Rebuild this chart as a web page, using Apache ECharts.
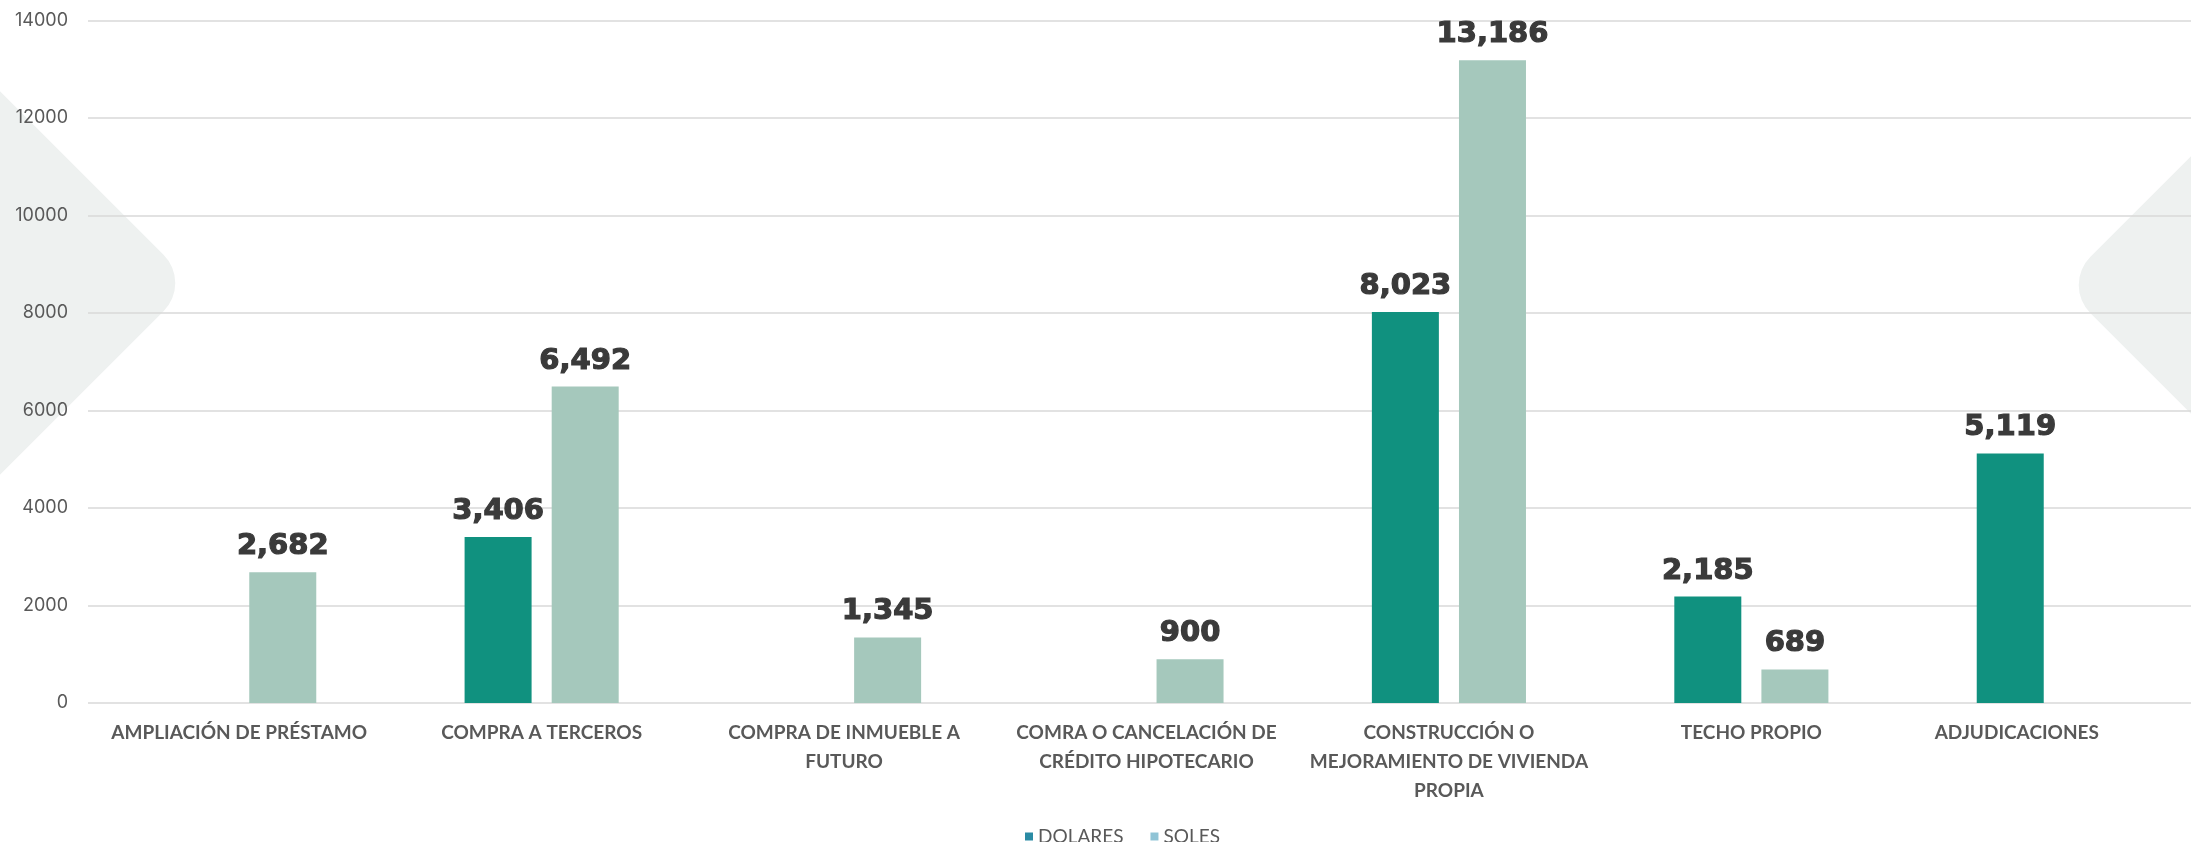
<!DOCTYPE html>
<html>
<head>
<meta charset="utf-8">
<script src="https://cdn.jsdelivr.net/npm/echarts@6/dist/echarts.min.js"></script>
<style>
html,body{margin:0;padding:0;background:#ffffff;}
#chart{width:2191px;height:842px;}
</style>
</head>
<body>
<div id="chart"></div>
<script>
const categories = [
  'AMPLIACIÓN DE PRÉSTAMO',
  'COMPRA A TERCEROS',
  'COMPRA DE INMUEBLE A FUTURO',
  'COMRA O CANCELACIÓN DE CRÉDITO HIPOTECARIO',
  'CONSTRUCCIÓN O MEJORAMIENTO DE VIVIENDA PROPIA',
  'TECHO PROPIO',
  'ADJUDICACIONES'
];
const tickLabels = [
  'AMPLIACIÓN DE PRÉSTAMO',
  'COMPRA A TERCEROS',
  'COMPRA DE INMUEBLE A\nFUTURO',
  'COMRA O CANCELACIÓN DE\nCRÉDITO HIPOTECARIO',
  'CONSTRUCCIÓN O\nMEJORAMIENTO DE VIVIENDA\nPROPIA',
  'TECHO PROPIO',
  'ADJUDICACIONES'
];
const dolares = [null, 3406, null, null, 8023, 2185, 5119];
const soles = [2682, 6492, 1345, 900, 13186, 689, null];
const seriesNames = ['DOLARES', 'SOLES'];

const chart = echarts.init(document.getElementById('chart'));
const labelFont = {fontFamily: 'Lato', fontWeight: 700, fontSize: 19, color: '#595959', lineHeight: 29};
const dataLabel = {
  show: true,
  position: 'top',
  distance: 11,
  fontFamily: 'DejaVu Sans',
  fontWeight: 'bold',
  fontSize: 29,
  color: '#3a3a3a',
  textBorderColor: '#3a3a3a',
  textBorderWidth: 1.2,
  formatter: p => p.value == null ? '' : Number(p.value).toLocaleString('en-US')
};
chart.setOption({
  animation: false,
  backgroundColor: '#ffffff',
  graphic: [
    {type: 'rect', z: -10, x: -91, y: 283, rotation: Math.PI / 4,
     shape: {x: -200, y: -200, width: 400, height: 400, r: 40},
     style: {fill: '#eef1f0'}},
    {type: 'rect', z: -10, x: 2345, y: 285, rotation: Math.PI / 4,
     shape: {x: -200, y: -200, width: 400, height: 400, r: 40},
     style: {fill: '#eef1f0'}}
  ],
  grid: {left: 88, width: 2117, top: 20.5, height: 682.5, containLabel: false, outerBoundsMode: 'none'},
  legend: {
    left: 1020, top: 822,
    itemWidth: 8, itemHeight: 8, itemGap: 27, icon: 'rect',
    textStyle: {fontFamily: 'Lato', fontSize: 19, color: '#595959'},
    data: [
      {name: seriesNames[0], itemStyle: {color: '#2b8ba4'}},
      {name: seriesNames[1], itemStyle: {color: '#90c4d6'}}
    ]
  },
  xAxis: {
    type: 'category',
    data: categories,
    axisLine: {show: false},
    axisTick: {show: false},
    axisLabel: Object.assign({
      interval: 0,
      margin: 15,
      formatter: (v, i) => i === 6 ? '{s|' + tickLabels[i] + '}' : tickLabels[i],
      rich: {s: Object.assign({padding: [0, 74, 0, 0]}, labelFont)}
    }, labelFont)
  },
  yAxis: {
    type: 'value',
    min: 0, max: 14000, interval: 2000,
    axisLine: {show: false},
    axisTick: {show: false},
    axisLabel: {margin: 20, fontFamily: 'Inter', fontSize: 18, color: '#595959',
                formatter: v => String(v)},
    splitLine: {lineStyle: {color: '#d9d9d9', width: 1.5}}
  },
  series: [
    {name: seriesNames[0], type: 'bar', data: dolares, barWidth: 67, barGap: '30%',
     itemStyle: {color: '#10917f'}, label: dataLabel},
    {name: seriesNames[1], type: 'bar', data: soles, barWidth: 67, barGap: '30%',
     itemStyle: {color: '#a5c8bc'}, label: dataLabel}
  ]
});
</script>
</body>
</html>
